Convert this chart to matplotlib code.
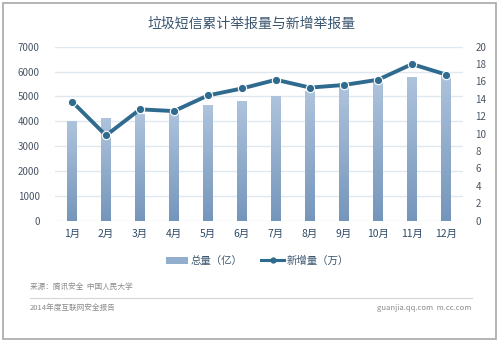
import matplotlib
matplotlib.use("Agg")
import matplotlib.pyplot as plt
import numpy as np
from matplotlib.colors import LinearSegmentedColormap
from matplotlib.patches import Rectangle
from matplotlib.lines import Line2D

plt.rcParams['font.family'] = ['Noto Sans CJK SC', 'DejaVu Sans']

months = ['1月', '2月', '3月', '4月', '5月', '6月', '7月', '8月', '9月', '10月', '11月', '12月']
total = [4000, 4120, 4280, 4410, 4630, 4800, 5000, 5190, 5370, 5570, 5790, 5920]
new_added = [13.7, 9.8, 12.8, 12.6, 14.4, 15.2, 16.2, 15.3, 15.6, 16.2, 18.0, 16.8]
left_ticks = [0, 1000, 2000, 3000, 4000, 5000, 6000, 7000]
right_ticks = [0, 2, 4, 6, 8, 10, 12, 14, 16, 18, 20]

W, H = 499, 343
fig = plt.figure(figsize=(W/100, H/100), dpi=100)
fig.patch.set_facecolor('white')

ax = fig.add_axes([55/W, 1-220.7/H, (463-55)/W, (220.7-46.7)/H])
ax2 = ax.twinx()

x = np.arange(len(months))
bw = 0.27
bars = ax.bar(x, total, width=bw, color='#93aecd', zorder=2)
cmap = LinearSegmentedColormap.from_list('g', ['#7596bb', '#aec3dc'])
grad = np.linspace(0, 1, 100).reshape(-1, 1)
for b in bars:
    b.set_alpha(0)
    ax.imshow(grad, extent=[b.get_x(), b.get_x()+b.get_width(), 0, b.get_height()],
              origin='lower', aspect='auto', cmap=cmap, zorder=2)

ax.set_xlim(-0.5, 11.5)
ax.set_ylim(0, 7000)
ax.set_yticks(left_ticks)
ax.set_xticks(x)
ax.set_xticklabels(months)
ax.grid(axis='y', color='#dfe7ef', linewidth=1.0, zorder=0)
ax.set_axisbelow(True)

ax2.plot(x, new_added, color='#2f6a8f', linewidth=2.8, marker='o', markersize=6,
         markerfacecolor='#2f6a8f', markeredgecolor='white', markeredgewidth=0.8, zorder=3)
ax2.set_ylim(0, 20)
ax2.set_yticks(right_ticks)

for a in (ax, ax2):
    for s in a.spines.values():
        s.set_visible(False)
    a.tick_params(length=0)
ax.tick_params(axis='y', labelsize=7, labelcolor='#4a5666', pad=11)
ax2.tick_params(axis='y', labelsize=7, labelcolor='#4a5666', pad=9)
ax.tick_params(axis='x', labelsize=7.5, labelcolor='#2f4a66', pad=6)

fig.text(252/W, 1-24/H, '垃圾短信累计举报量与新增举报量', ha='center', va='center',
         fontsize=10, color='#3b5670', fontweight='medium')

handles = [Rectangle((0, 0), 1, 1, facecolor='#93aecd'),
           Line2D([0], [0], color='#2f6a8f', linewidth=2.2, marker='o', markersize=3.5)]
fig.legend(handles, ['总量（亿）', '新增量（万）'], loc='center', bbox_to_anchor=(257/W, 1-261/H),
           ncol=2, frameon=False, fontsize=7.5, labelcolor='#3b5670', handlelength=2.2,
           handletextpad=0.2, columnspacing=1.8)

fig.text(30/W, 1-287/H, '来源：腾讯安全  中国人民大学', ha='left', va='center', fontsize=5.5, color='#8a8a8a')
fig.add_artist(Line2D([30/W, 472/W], [1-298/H, 1-298/H], color='#d5d5d5', linewidth=0.8))
fig.text(30/W, 1-308/H, '2014年度互联网安全报告', ha='left', va='center', fontsize=5.5, color='#8a8a8a')
fig.text(471/W, 1-308/H, 'guanjia.qq.com  m.cc.com', ha='right', va='center', fontsize=5.5, color='#8a8a8a')

fig.add_artist(Rectangle((3/W, 1-339/H), 493/W, 336/H, fill=False, edgecolor='#a8a8a8', linewidth=1.2))

fig.savefig('out.png', dpi=100, facecolor='white')
